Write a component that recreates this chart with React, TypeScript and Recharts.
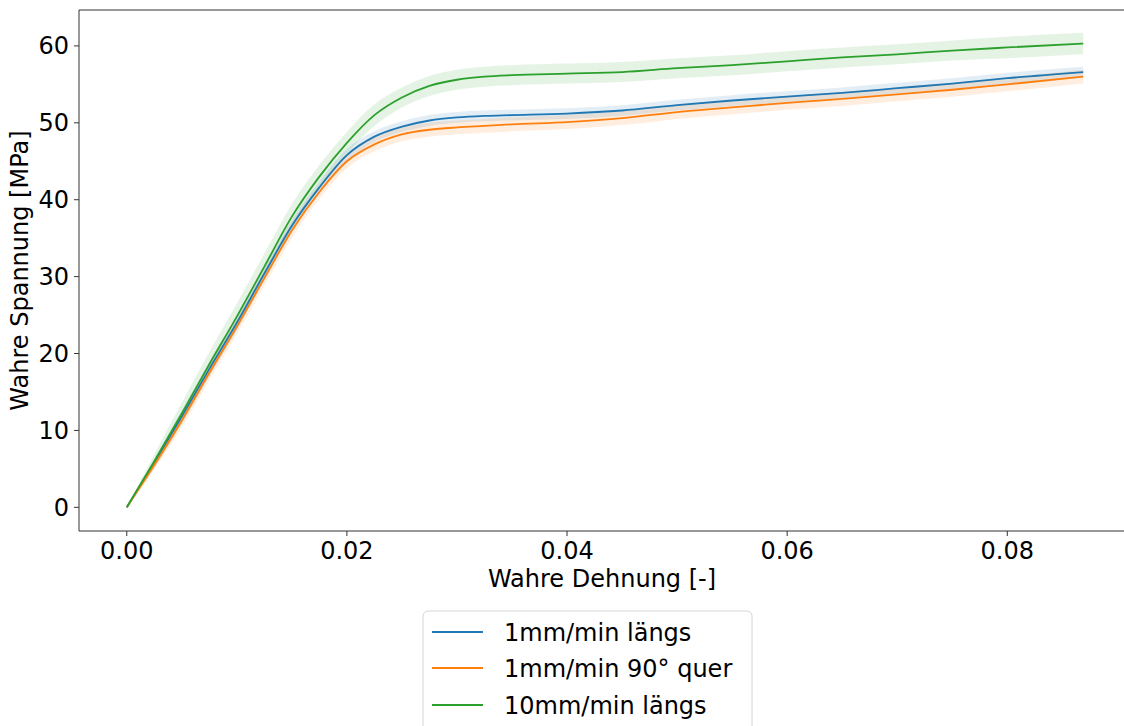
import {
  ComposedChart, Line, Area,
  XAxis, YAxis, ReferenceLine, Label
} from "recharts";

// true strain [-]
const strain = [
  0, 0.0025, 0.005, 0.0075, 0.01, 0.0125, 0.015, 0.0175, 0.02, 0.0225,
  0.025, 0.0275, 0.03, 0.0325, 0.035, 0.04, 0.045, 0.05, 0.055, 0.06,
  0.065, 0.07, 0.075, 0.08, 0.0869,
];

// mean true stress [MPa]
const laengs1 = [
  0, 5.8, 11.8, 18.0, 24.0, 30.4, 36.6, 41.6, 45.8, 48.2,
  49.5, 50.3, 50.7, 50.9, 51.0, 51.2, 51.6, 52.3, 52.9, 53.4,
  53.9, 54.5, 55.1, 55.8, 56.6,
];
const quer1 = [
  0, 5.5, 11.3, 17.5, 23.5, 29.8, 36.0, 41.0, 45.0, 47.2,
  48.5, 49.1, 49.4, 49.6, 49.8, 50.1, 50.6, 51.4, 52.0, 52.6,
  53.1, 53.7, 54.3, 55.0, 56.0,
];
const laengs10 = [
  0, 6.0, 12.2, 18.6, 24.8, 31.3, 37.8, 43.0, 47.4, 51.0,
  53.3, 54.8, 55.6, 56.0, 56.2, 56.4, 56.6, 57.1, 57.5, 58.0,
  58.5, 58.9, 59.4, 59.8, 60.3,
];

// scatter band half width [MPa]
const spreadLaengs1 = [
  0, 0.5, 0.8, 0.9, 0.9, 0.9, 0.8, 0.8, 0.8, 0.7,
  0.7, 0.7, 0.7, 0.7, 0.7, 0.7, 0.7, 0.7, 0.7, 0.7,
  0.7, 0.7, 0.7, 0.7, 0.7,
];
const spreadQuer1 = [
  0, 0.6, 0.9, 1.0, 1.0, 1.0, 1.0, 0.9, 0.9, 0.9,
  0.9, 0.9, 0.9, 0.9, 0.9, 0.9, 0.9, 0.9, 0.9, 0.9,
  0.9, 0.9, 0.9, 0.9, 0.9,
];
const spreadLaengs10 = [
  0, 0.9, 1.4, 1.6, 1.7, 1.7, 1.6, 1.5, 1.4, 1.4,
  1.3, 1.3, 1.3, 1.3, 1.3, 1.3, 1.3, 1.3, 1.3, 1.3,
  1.3, 1.3, 1.3, 1.4, 1.4,
];

const seriesNames = ["1mm/min längs", "1mm/min 90° quer", "10mm/min längs"];
const seriesColors = ["#1f77b4", "#ff7f0e", "#2ca02c"];

const xTicks = [0, 0.02, 0.04, 0.06, 0.08];
const yTicks = [0, 10, 20, 30, 40, 50, 60];
const xDomain = [-0.00434, 0.09124];
const yDomain = [-3.08, 64.67];

const rows = strain.map((e, i) => ({
  e,
  s0: laengs1[i],
  s1: quer1[i],
  s2: laengs10[i],
  b0: [laengs1[i] - spreadLaengs1[i], laengs1[i] + spreadLaengs1[i]],
  b1: [quer1[i] - spreadQuer1[i], quer1[i] + spreadQuer1[i]],
  b2: [laengs10[i] - spreadLaengs10[i], laengs10[i] + spreadLaengs10[i]],
}));

const FONT = "'DejaVu Sans', sans-serif";
const FS = 24;
const tickStyle = { fontSize: FS, fill: "#000", fontFamily: FONT };

function YTitle({ viewBox }: any) {
  const cy = viewBox.y + viewBox.height / 2;
  return (
    <text x={28} y={cy} transform={`rotate(-90, 28, ${cy})`} textAnchor="middle"
      fontSize={FS} fontFamily={FONT} fill="#000">
      Wahre Spannung [MPa]
    </text>
  );
}

function XTitle({ viewBox }: any) {
  return (
    <text x={viewBox.x + viewBox.width / 2 - 3} y={587} textAnchor="middle"
      fontSize={FS} fontFamily={FONT} fill="#000">
      Wahre Dehnung [-]
    </text>
  );
}

function LegendBox() {
  const top = 611;
  const rowsY = [632, 668, 705];
  return (
    <svg width={1124} height={726} style={{ position: "absolute", left: 0, top: 0, pointerEvents: "none" }}>
      <rect x={423} y={top} width={329} height={130} rx={5} fill="#fff" stroke="#d6d6d6" strokeWidth={1} />
      {seriesNames.map((name, i) => (
        <g key={name}>
          <line x1={432} x2={483} y1={rowsY[i]} y2={rowsY[i]} stroke={seriesColors[i]} strokeWidth={2} />
          <text x={504} y={rowsY[i] + 8.5} fontSize={24} fontFamily={FONT} fill="#000">{name}</text>
        </g>
      ))}
    </svg>
  );
}

export default function App() {
  return (
    <div style={{ position: "fixed", left: 0, top: 0, width: 1124, height: 726, overflow: "hidden", background: "#fff", fontFamily: FONT }}>
      <style>{"html, body { margin: 0; overflow: hidden; }"}</style>
      <ComposedChart width={1200} height={726} data={rows}
        margin={{ top: 10, right: 69, bottom: 155, left: 0 }}>
        <XAxis dataKey="e" type="number" domain={xDomain} ticks={xTicks} allowDataOverflow
          tickFormatter={(v) => v.toFixed(2)} tick={tickStyle} height={40}
          tickSize={5} tickMargin={6} stroke="#333" axisLine={{ stroke: "#333" }}>
          <Label content={<XTitle />} />
        </XAxis>
        <YAxis type="number" domain={yDomain} ticks={yTicks} allowDataOverflow width={79}
          tick={tickStyle} tickSize={5} tickMargin={5} stroke="#333" axisLine={{ stroke: "#333" }}>
          <Label content={<YTitle />} />
        </YAxis>
        {/* top spine */}
        <ReferenceLine y={yDomain[1]} stroke="#333" strokeWidth={1} ifOverflow="visible" />
        <Area dataKey="b0" type="monotone" stroke="none" fill={seriesColors[0]} fillOpacity={0.13} isAnimationActive={false} />
        <Area dataKey="b1" type="monotone" stroke="none" fill={seriesColors[1]} fillOpacity={0.13} isAnimationActive={false} />
        <Area dataKey="b2" type="monotone" stroke="none" fill={seriesColors[2]} fillOpacity={0.13} isAnimationActive={false} />
        <Line dataKey="s0" type="monotone" stroke={seriesColors[0]} strokeWidth={1.8} dot={false} isAnimationActive={false} />
        <Line dataKey="s1" type="monotone" stroke={seriesColors[1]} strokeWidth={1.8} dot={false} isAnimationActive={false} />
        <Line dataKey="s2" type="monotone" stroke={seriesColors[2]} strokeWidth={1.8} dot={false} isAnimationActive={false} />
      </ComposedChart>
      <LegendBox />
    </div>
  );
}
